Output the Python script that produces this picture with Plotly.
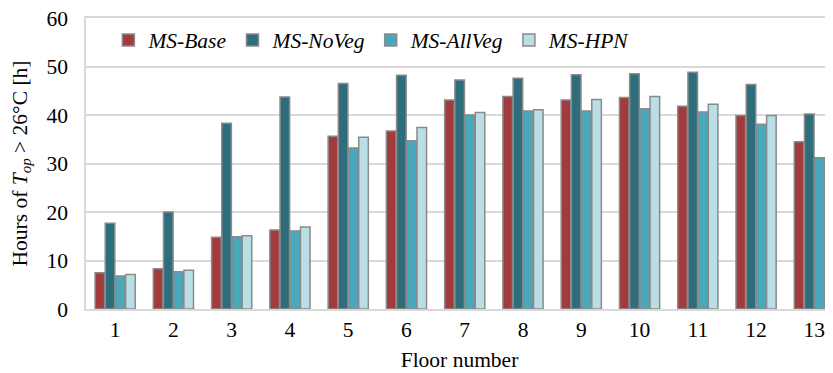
import plotly.graph_objects as go

floors = [str(i) for i in range(1, 14)]
ms_base = [7.5, 8.3, 14.8, 16.3, 35.6, 36.7, 43.1, 43.8, 43.1, 43.6, 41.8, 39.9, 34.5]
ms_noveg = [17.7, 20.0, 38.3, 43.7, 46.5, 48.2, 47.2, 47.6, 48.3, 48.5, 48.8, 46.3, 40.2]
ms_allveg = [6.8, 7.7, 14.9, 16.1, 33.2, 34.7, 40.0, 40.8, 40.8, 41.3, 40.6, 38.1, 31.2]
ms_hpn = [7.1, 8.0, 15.1, 16.9, 35.4, 37.4, 40.5, 41.1, 43.2, 43.8, 42.2, 39.9, 29.4]

series = [
    ("MS-Base", ms_base, "#A13B3E"),
    ("MS-NoVeg", ms_noveg, "#2E6E7C"),
    ("MS-AllVeg", ms_allveg, "#4AA8BD"),
    ("MS-HPN", ms_hpn, "#B9DEE6"),
]

fig = go.Figure()
for name, vals, col in series:
    fig.add_trace(go.Bar(
        x=list(range(1, 14)), y=vals, name="<i>" + name + "</i>",
        marker=dict(color=col, line=dict(color="#8A8A8A", width=1.5)),
    ))

font = "Liberation Serif, Times New Roman, serif"
fs = 21.5
fig.update_layout(
    width=825, height=365,
    margin=dict(l=78, r=0, t=10, b=64),
    paper_bgcolor="white", plot_bgcolor="white",
    barmode="group", bargap=0.3, bargroupgap=0.06,
    font=dict(family=font, size=fs, color="#000"),
    showlegend=True,
    legend=dict(orientation="h", x=0.03, y=0.995, xanchor="left", yanchor="top",
                font=dict(family=font, size=fs), bgcolor="rgba(0,0,0,0)",
                itemwidth=30, traceorder="normal"),
    xaxis=dict(
        range=[0.5, 13.32], tickmode="array", tickvals=list(range(1, 14)), ticktext=floors,
        showgrid=False, showline=True, mirror=True, linecolor="#D9D9D9", linewidth=1.5,
        ticks="", tickfont=dict(size=fs), automargin=False,
        ticklabeloverflow="allow",
        title=dict(text="Floor number", font=dict(size=fs), standoff=11),
    ),
    yaxis=dict(
        range=[0, 60], dtick=10, showgrid=True, gridcolor="#D9D9D9", gridwidth=1.5,
        showline=True, linecolor="#D9D9D9", linewidth=1.5, zeroline=False,
        ticks="outside", ticklen=12, tickcolor="rgba(0,0,0,0)",
        tickfont=dict(size=fs), automargin=False, ticklabeloverflow="allow",
    ),
    annotations=[dict(
        text="Hours of <i>T</i><sub><i>op</i></sub> > 26°C [h]",
        xref="paper", yref="paper", x=-0.087, y=0.5, xanchor="center", yanchor="middle",
        textangle=-90, showarrow=False, font=dict(family=font, size=fs),
    )],
)

fig.write_html("out.html")
